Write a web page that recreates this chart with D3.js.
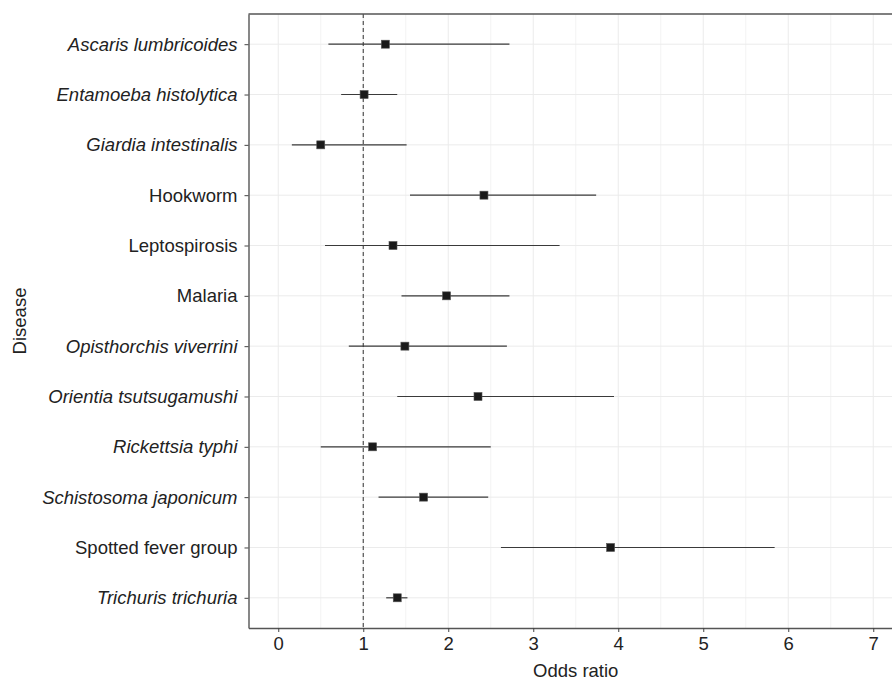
<!DOCTYPE html>
<html lang="en">
<head>
  <meta charset="UTF-8">
  <title>Odds ratio by disease</title>
  <style>
    body { margin: 0; background: #fff; }
    svg { display: block; font-family: "Liberation Sans", Arial, sans-serif; }
  </style>
</head>
<body>
  <script src="https://cdn.jsdelivr.net/npm/d3@7"></script>
  <script>
    var width = 892;
    var height = 681;

    // data
    var diseases = ["Ascaris lumbricoides", "Entamoeba histolytica", "Giardia intestinalis",
      "Hookworm", "Leptospirosis", "Malaria", "Opisthorchis viverrini", "Orientia tsutsugamushi",
      "Rickettsia typhi", "Schistosoma japonicum", "Spotted fever group", "Trichuris trichuria"];
    var oddsRatio = [1.26, 1.01, 0.50, 2.42, 1.35, 1.98, 1.49, 2.35, 1.11, 1.71, 3.91, 1.40];
    var lowerCI = [0.59, 0.74, 0.16, 1.55, 0.55, 1.45, 0.83, 1.40, 0.50, 1.18, 2.62, 1.27];
    var upperCI = [2.72, 1.40, 1.51, 3.74, 3.31, 2.72, 2.69, 3.95, 2.50, 2.47, 5.84, 1.52];
    var plainNames = ["Hookworm", "Leptospirosis", "Malaria", "Spotted fever group"];
    var xTicks = [0, 1, 2, 3, 4, 5, 6, 7];
    var xMinor = [0.5, 1.5, 2.5, 3.5, 4.5, 5.5, 6.5];

    // panel edges (window.top is reserved, so use other names)
    var pLeft = 248.5, pRight = 903, pTop = 14, pBottom = 628;
    var fontSize = 18.5;

    var svg = d3.select("body").append("svg")
      .attr("width", width)
      .attr("height", height);

    var x = d3.scaleLinear().domain([-0.35, 7.35]).range([pLeft, pRight]);
    var y = d3.scalePoint().domain(diseases).range([pTop, pBottom]).padding(0.6);

    // grid
    svg.append("g").selectAll("line").data(xMinor).enter().append("line")
      .attr("x1", function (d) { return x(d); }).attr("x2", function (d) { return x(d); })
      .attr("y1", pTop).attr("y2", pBottom)
      .attr("stroke", "#f3f3f3").attr("stroke-width", 1);
    svg.append("g").selectAll("line").data(xTicks).enter().append("line")
      .attr("x1", function (d) { return x(d); }).attr("x2", function (d) { return x(d); })
      .attr("y1", pTop).attr("y2", pBottom)
      .attr("stroke", "#ebebeb").attr("stroke-width", 1);
    svg.append("g").selectAll("line").data(diseases).enter().append("line")
      .attr("x1", pLeft).attr("x2", pRight)
      .attr("y1", function (d) { return y(d); }).attr("y2", function (d) { return y(d); })
      .attr("stroke", "#ebebeb").attr("stroke-width", 1);

    // reference line at 1
    svg.append("line")
      .attr("x1", x(1)).attr("x2", x(1))
      .attr("y1", pTop).attr("y2", pBottom)
      .attr("stroke", "#444").attr("stroke-width", 1.1)
      .attr("stroke-dasharray", "4,3");

    var rows = svg.append("g").selectAll("g").data(diseases).enter().append("g");

    rows.append("line")
      .attr("x1", function (d, i) { return x(lowerCI[i]); })
      .attr("x2", function (d, i) { return x(upperCI[i]); })
      .attr("y1", function (d) { return y(d); })
      .attr("y2", function (d) { return y(d); })
      .attr("stroke", "#3a3a3a").attr("stroke-width", 1.2);

    var s = 8;
    rows.append("rect")
      .attr("x", function (d, i) { return x(oddsRatio[i]) - s / 2; })
      .attr("y", function (d) { return y(d) - s / 2; })
      .attr("width", s).attr("height", s)
      .attr("fill", "#1a1a1a")
      .attr("stroke", "#555").attr("stroke-width", 0.6);

    // panel border (top) and axes
    svg.append("line").attr("x1", pLeft).attr("x2", pRight).attr("y1", pTop).attr("y2", pTop)
      .attr("stroke", "#555").attr("stroke-width", 1.4);

    var xAxis = svg.append("g")
      .attr("transform", "translate(0," + pBottom + ")")
      .call(d3.axisBottom(x).tickValues(xTicks).tickSize(4).tickSizeOuter(0)
        .tickPadding(5).tickFormat(d3.format("d")));
    xAxis.select(".domain").attr("stroke", "#555").attr("stroke-width", 1.4);
    xAxis.selectAll(".tick line").attr("stroke", "#444");
    xAxis.selectAll("text").attr("font-size", fontSize).attr("fill", "#222")
      .attr("font-family", "Liberation Sans, Arial, sans-serif");

    var yAxis = svg.append("g")
      .attr("transform", "translate(" + pLeft + ",0)")
      .call(d3.axisLeft(y).tickSize(4).tickSizeOuter(0).tickPadding(7));
    yAxis.select(".domain").attr("stroke", "#555").attr("stroke-width", 1.4);
    yAxis.selectAll(".tick line").attr("stroke", "#444");
    yAxis.selectAll("text").attr("font-size", fontSize).attr("fill", "#222")
      .attr("font-family", "Liberation Sans, Arial, sans-serif")
      .attr("font-style", function (d) { return plainNames.indexOf(d) >= 0 ? "normal" : "italic"; });

    // axis titles
    svg.append("text")
      .attr("x", x(3.5)).attr("y", 677)
      .attr("text-anchor", "middle")
      .attr("font-size", fontSize).attr("fill", "#222")
      .text("Odds ratio");

    svg.append("text")
      .attr("transform", "translate(26," + ((pTop + pBottom) / 2) + ") rotate(-90)")
      .attr("text-anchor", "middle")
      .attr("font-size", fontSize).attr("fill", "#222")
      .text("Disease");
  </script>
</body>
</html>
